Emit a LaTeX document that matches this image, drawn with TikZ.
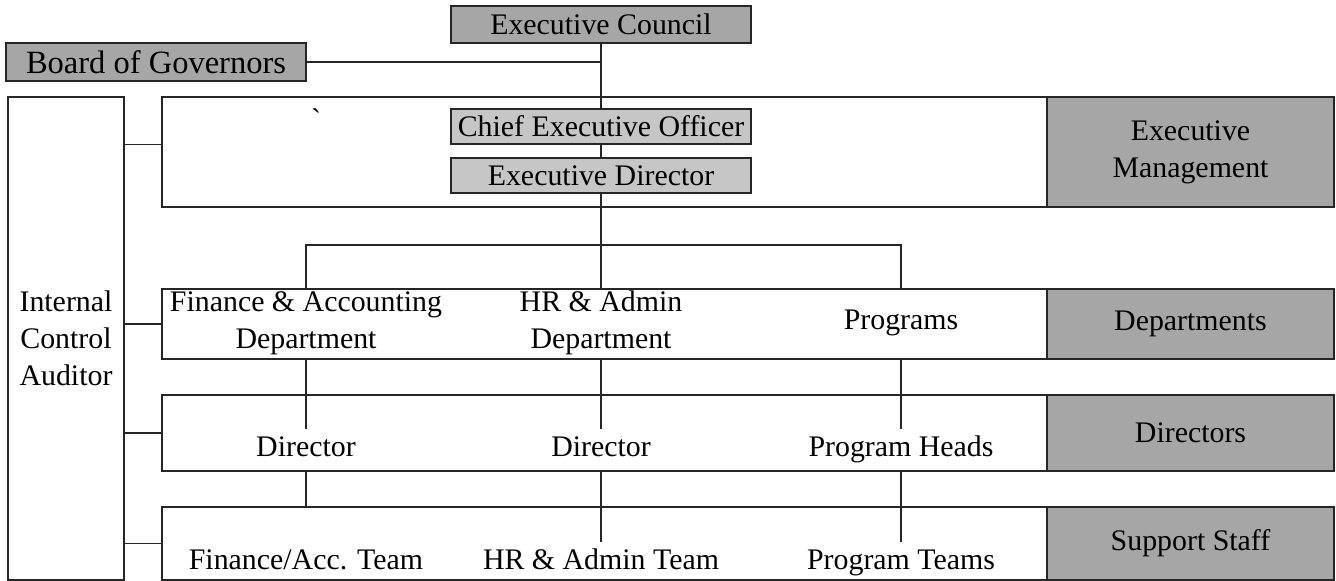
\documentclass[tikz,border=0pt]{standalone}
\usepackage{fontspec}
\setmainfont{Liberation Serif}
\definecolor{scuro}{HTML}{A6A6A6}
\definecolor{chiaro}{HTML}{C6C6C6}
\begin{document}
\begin{tikzpicture}[x=0.02cm, y=-0.02cm, line width=0.8pt, color=black!85,
    every node/.style={font=\fontsize{17}{21}\selectfont, inner sep=0pt, align=center, text=black},
    box/.style={draw, minimum width=6cm, minimum height=0.72cm},
    band/.style={draw, minimum width=17.7cm},
    tag/.style={draw, fill=scuro, minimum width=5.74cm},
    lbl/.style={text height=12pt, text depth=3.5pt, inner ysep=3pt}]
    \useasboundingbox (0,0) rectangle (1336,581);

    % Vertice
    \node[box, fill=scuro, minimum height=0.74cm] (council) at (601,24.5) {Executive Council};
    \node[box, fill=scuro, minimum height=0.76cm, font=\fontsize{18.5}{22}\selectfont] (board) at (156,62) {Board of Governors};

    % Direzione
    \node[band, minimum height=2.2cm] (exband) at (604.5,152) {};
    \node[tag, minimum height=2.2cm] (extag) at (1190.5,152) {Executive\\Management};
    \node[box, fill=chiaro, minimum height=0.7cm] (ceo) at (601,126.5) {Chief Executive Officer};
    \node[box, fill=chiaro, minimum height=0.7cm] (ed) at (601,175.5) {Executive Director};
    \node (tick) at (316,119) {\textasciigrave};

    % Dipartimenti
    \node[band, minimum height=1.4cm] (dep) at (604.5,324) {};
    \node[tag, minimum height=1.4cm] (deptag) at (1190.5,324) {Departments};
    \node (fin) at (306,323) {Finance \& Accounting\\Department};
    \node (hr) at (601,323) {HR \& Admin\\Department};
    \node (prog) at (901,323) {Programs};

    % Direttori
    \node[band, minimum height=1.52cm] (dir) at (604.5,433) {};
    \node[tag, minimum height=1.52cm] (dirtag) at (1190.5,433) {Directors};
    \node[lbl] (findir) at (306,449) {Director};
    \node[lbl] (hrdir) at (601,449) {Director};
    \node[lbl] (heads) at (901,449) {Program Heads};

    % Personale di supporto
    \node[band, minimum height=1.46cm] (sup) at (604.5,543.5) {};
    \node[tag, minimum height=1.46cm] (suptag) at (1190.5,543.5) {Support Staff};
    \node[lbl] (finteam) at (306,562) {Finance/Acc. Team};
    \node[lbl] (hrteam) at (601,562) {HR \& Admin Team};
    \node[lbl] (progteams) at (901,562) {Program Teams};

    % Revisore interno
    \node[draw, minimum width=2.32cm, minimum height=9.66cm] (aud) at (66,338.5) {Internal\\Control\\Auditor};

    % Collegamenti
    \draw (board.east) -- (board.east -| council.south);
    \draw (council.south) -- (ceo.north);
    \draw (ceo.south) -- (ed.north);
    \coordinate (split) at (601,245);
    \draw (ed.south) -- (split);
    \draw (split) -| (fin.center |- dep.north);
    \draw (split) -- (hr.center |- dep.north);
    \draw (split) -| (prog.center |- dep.north);

    \draw (fin.center |- dep.south) -- (findir.north);
    \draw (hr.center |- dep.south) -- (hrdir.north);
    \draw (prog.center |- dep.south) -- (heads.north);

    \draw (findir.center |- dir.south) -- (finteam.center |- sup.north);
    \draw (hrdir.center |- dir.south) -- (hrteam.north);
    \draw (heads.center |- dir.south) -- (progteams.north);

    \draw (aud.east |- ceo.south) -- (exband.west |- ceo.south);
    \foreach \b in {dep,dir,sup} \draw (aud.east |- \b.west) -- (\b.west);
\end{tikzpicture}
\end{document}
